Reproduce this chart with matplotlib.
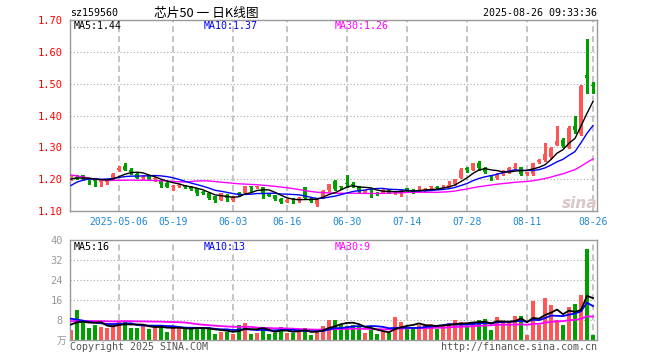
import numpy as np
import pandas as pd
import matplotlib
matplotlib.use('Agg')
from matplotlib import pyplot as plt

# ---- values ----
dates = ['2025-05-06', '05-19', '06-03', '06-16', '06-30', '07-14', '07-28', '08-11', '08-26']
date_idx = [8, 17, 27, 36, 46, 56, 66, 76, 87]

opens = [1.200, 1.207, 1.212, 1.201, 1.196, 1.190, 1.191, 1.200, 1.228, 1.240,
         1.230, 1.216, 1.203, 1.212, 1.200, 1.196, 1.188, 1.174, 1.178, 1.179,
         1.176, 1.171, 1.160, 1.156, 1.146, 1.136, 1.150, 1.134, 1.157, 1.155,
         1.177, 1.174, 1.174, 1.156, 1.150, 1.139, 1.129, 1.135, 1.138, 1.174,
         1.139, 1.121, 1.142, 1.165, 1.194, 1.178, 1.188, 1.186, 1.177, 1.158,
         1.168, 1.158, 1.158, 1.168, 1.159, 1.158, 1.171, 1.166, 1.164, 1.163,
         1.174, 1.176, 1.177, 1.176, 1.185, 1.205, 1.235, 1.230, 1.250, 1.236,
         1.212, 1.204, 1.215, 1.222, 1.236, 1.237, 1.215, 1.215, 1.253, 1.260,
         1.269, 1.308, 1.323, 1.302, 1.368, 1.342, 1.527, 1.495]
closes = [1.208, 1.205, 1.200, 1.197, 1.193, 1.198, 1.199, 1.216, 1.234, 1.230,
          1.224, 1.205, 1.206, 1.200, 1.203, 1.186, 1.176, 1.180, 1.181, 1.174,
          1.168, 1.155, 1.155, 1.141, 1.135, 1.155, 1.141, 1.144, 1.150, 1.177,
          1.175, 1.176, 1.155, 1.148, 1.139, 1.129, 1.136, 1.133, 1.140, 1.142,
          1.132, 1.139, 1.163, 1.184, 1.169, 1.176, 1.186, 1.183, 1.162, 1.165,
          1.167, 1.152, 1.166, 1.158, 1.161, 1.168, 1.166, 1.160, 1.166, 1.170,
          1.176, 1.171, 1.179, 1.183, 1.200, 1.230, 1.228, 1.250, 1.236, 1.222,
          1.210, 1.217, 1.227, 1.235, 1.238, 1.216, 1.222, 1.250, 1.260, 1.279,
          1.298, 1.321, 1.305, 1.362, 1.354, 1.493, 1.519, 1.492]
highs = [1.212, 1.212, 1.214, 1.204, 1.198, 1.201, 1.202, 1.218, 1.242, 1.250,
         1.236, 1.218, 1.212, 1.213, 1.206, 1.198, 1.190, 1.182, 1.186, 1.182,
         1.178, 1.172, 1.162, 1.158, 1.148, 1.157, 1.152, 1.146, 1.159, 1.179,
         1.178, 1.180, 1.176, 1.158, 1.151, 1.140, 1.138, 1.140, 1.143, 1.176,
         1.140, 1.141, 1.165, 1.186, 1.196, 1.180, 1.213, 1.190, 1.178, 1.167,
         1.170, 1.160, 1.168, 1.170, 1.164, 1.170, 1.173, 1.168, 1.180, 1.172,
         1.180, 1.178, 1.183, 1.195, 1.202, 1.236, 1.237, 1.252, 1.258, 1.238,
         1.214, 1.219, 1.229, 1.237, 1.250, 1.239, 1.224, 1.252, 1.262, 1.313,
         1.300, 1.368, 1.330, 1.368, 1.400, 1.495, 1.639, 1.506]
lows = [1.197, 1.200, 1.197, 1.186, 1.180, 1.180, 1.184, 1.198, 1.225, 1.228,
        1.216, 1.203, 1.200, 1.198, 1.195, 1.176, 1.174, 1.165, 1.176, 1.172,
        1.166, 1.150, 1.152, 1.139, 1.129, 1.133, 1.132, 1.131, 1.147, 1.153,
        1.164, 1.171, 1.142, 1.146, 1.136, 1.124, 1.127, 1.126, 1.128, 1.140,
        1.128, 1.116, 1.140, 1.162, 1.167, 1.170, 1.175, 1.176, 1.160, 1.156,
        1.145, 1.150, 1.156, 1.156, 1.154, 1.148, 1.164, 1.158, 1.160, 1.161,
        1.168, 1.169, 1.172, 1.174, 1.183, 1.203, 1.222, 1.228, 1.230, 1.220,
        1.198, 1.201, 1.213, 1.220, 1.233, 1.214, 1.212, 1.213, 1.251, 1.258,
        1.266, 1.306, 1.300, 1.298, 1.346, 1.340, 1.472, 1.472]
volume = [4.2, 11.9, 7.5, 5.0, 6.0, 5.3, 5.0, 6.0, 7.8, 7.3,
          5.0, 5.0, 5.6, 4.6, 5.7, 5.4, 3.4, 5.2, 4.9, 4.6,
          4.6, 4.6, 4.9, 4.5, 2.6, 3.4, 3.2, 2.6, 6.2, 7.0,
          2.6, 3.0, 5.4, 2.3, 2.8, 5.4, 3.0, 3.0, 3.4, 5.0,
          1.9, 3.2, 5.8, 8.2, 8.2, 6.2, 5.8, 6.2, 5.3, 2.9,
          4.0, 2.3, 3.3, 2.9, 9.3, 7.4, 5.3, 5.2, 6.0, 6.0,
          6.4, 4.6, 6.0, 7.0, 7.9, 7.4, 5.2, 7.4, 7.9, 8.6,
          4.2, 9.3, 7.2, 7.3, 9.8, 9.5, 1.9, 15.5, 6.0, 17.0,
          14.2, 8.2, 6.2, 13.1, 14.6, 17.9, 36.4, 1.9]

# sessions before the visible window, only used so the moving averages start where the chart's do
pre_close = [1.30, 1.29, 1.31, 1.30,
             1.24, 1.23, 1.25, 1.22, 1.23, 1.21, 1.22, 1.20, 1.21, 1.22, 1.21, 1.20, 1.22, 1.21, 1.20,
             1.12, 1.10, 1.14, 1.16, 1.19, 1.21, 1.19, 1.20, 1.20, 1.205]
pre_volume = [7, 8, 6, 7, 6, 7, 8, 6, 5, 6, 7, 6, 6, 7, 6, 7, 6, 7, 8,
              14, 15, 12, 10, 9, 8, 7.5, 6.5, 6.5, 6.3]

RED = '#ff5555'
GREEN = '#009f00'
MONO = 'DejaVu Sans Mono'
W, H = 660, 360

n = len(closes)
x = np.arange(n)
o = np.array(opens)
c = np.array(closes)
col = np.where(c >= o, RED, GREEN)


def moving(pre, vals, w):
    s = pd.Series(pre + vals, dtype=float)
    return s.rolling(w).mean().to_numpy()[-len(vals):]


ma_p = {w: moving(pre_close, closes, w) for w in (5, 10, 30)}
ma_v = {w: moving(pre_volume, volume, w) for w in (5, 10, 30)}
ma_cols = {5: 'black', 10: '#0000ff', 30: '#ff00ff'}

fig = plt.figure(figsize=(6.6, 3.6), dpi=100)
ax = fig.add_axes([70 / W, 1 - 211 / H, 527 / W, 191 / H])
axv = fig.add_axes([70 / W, 1 - 340 / H, 527 / W, 100 / H])


def ftext(px, py, s, **kw):
    fig.text(px / W, 1 - py / H, s, **kw)


# price panel
ax.vlines(x, lows, highs, colors=col, lw=0.9, zorder=2, antialiased=False)
ax.bar(x, np.maximum(np.abs(c - o), 0.003), bottom=np.minimum(o, c),
       width=0.8, color=col, lw=0, zorder=2, antialiased=False)
for w in (30, 10, 5):
    ax.plot(x, ma_p[w], color=ma_cols[w], lw=1, zorder=3)

# volume panel
axv.bar(x, volume, width=0.76, color=col, lw=0, zorder=2, antialiased=False)
for w in (30, 10, 5):
    axv.plot(x, ma_v[w], color=ma_cols[w], lw=1.3, zorder=3)

for a, ylim, grid in ((ax, (1.10, 1.70), [1.2, 1.3, 1.4, 1.5, 1.6]),
                      (axv, (0, 40), [8, 16, 24, 32])):
    a.set_xlim(-1 / 6, 526 / 6)
    a.set_ylim(*ylim)
    for v in grid:
        a.axhline(v, color='#a8a8a8', lw=0.8, ls=(0, (1, 2)), zorder=0)
    for i in date_idx:
        a.axvline(i, color='#b4b4b4', lw=1.1, ls=(0, (4, 2.5)), zorder=0)
    for sp in a.spines.values():
        sp.set_color('#999999')
        sp.set_linewidth(1.0)

ax.set_xticks(date_idx, dates)
ax.tick_params(axis='x', length=0, pad=4, labelsize=7, labelcolor='#1a88d8')
yt = [1.10, 1.20, 1.30, 1.40, 1.50, 1.60, 1.70]
ax.set_yticks(yt, [f'{v:.2f}' for v in yt])
ax.tick_params(axis='y', length=0, pad=5, labelsize=7.5, labelcolor='red')

axv.set_xticks([])
axv.set_yticks([8, 16, 24, 32, 40], ['8', '16', '24', '32', '40'])
axv.tick_params(axis='y', length=0, pad=5, labelsize=7.5, labelcolor='#999999')

for a in (ax, axv):
    for lab in a.get_xticklabels() + a.get_yticklabels():
        lab.set_family(MONO)

# header
ftext(70, 13, 'sz159560', family=MONO, fontsize=7.2, va='center')
ftext(206, 13, '芯片50 一 日K线图', family=['Noto Sans CJK SC', 'DejaVu Sans'],
      fontsize=9.2, ha='center', va='center')
ftext(597, 13, '2025-08-26 09:33:36', family=MONO, fontsize=7.2, ha='right', va='center')

# MA legends
for px, w in ((74, 5), (204, 10), (335, 30)):
    ftext(px, 26, f'MA{w}:{ma_p[w][-1]:.2f}', family=MONO, fontsize=7.2,
          color=ma_cols[w], va='center')
    ftext(px, 246.5, f'MA{w}:{int(ma_v[w][-1])}', family=MONO, fontsize=7.2,
          color=ma_cols[w], va='center')

ftext(66, 341, '万', family=['Noto Sans CJK SC', 'DejaVu Sans'], fontsize=7,
      color='#999999', ha='right', va='center')

# footer + watermark
ftext(70, 347, 'Copyright 2025 SINA.COM', family=MONO, fontsize=7.2, color='#555555', va='center')
ftext(597, 347, 'http://finance.sina.com.cn', family=MONO, fontsize=7.2, color='#555555',
      ha='right', va='center')
ftext(597, 203, 'sina', fontsize=11, fontweight='bold', style='italic', color='#d9c6c6',
      ha='right', va='center')

fig.savefig('out.png', dpi=100)
